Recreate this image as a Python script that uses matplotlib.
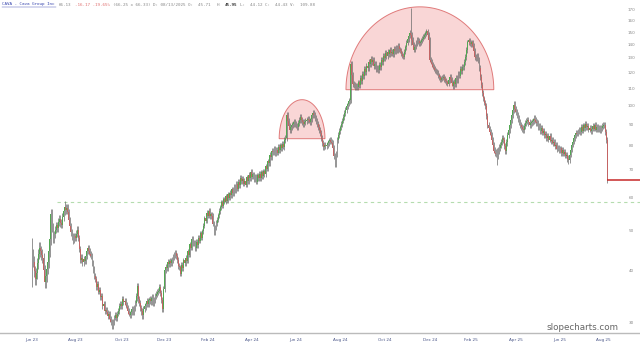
import numpy as np
import matplotlib
matplotlib.use("Agg")
import matplotlib.pyplot as plt
from matplotlib.transforms import blended_transform_factory

# ---------------- data ----------------
closes = [
    44.0, 42.1, 40.0, 38.2, 39.5, 41.8, 44.0, 45.5, 44.6, 43.8,
    43.0, 40.2, 37.6, 38.9, 40.5, 42.0, 44.6, 47.7, 54.8, 51.2,
    47.6, 49.0, 50.3, 51.5, 50.8, 52.5, 53.4, 52.2, 51.7, 54.0,
    55.8, 57.0, 56.1, 56.8, 55.4, 53.0, 51.2, 49.6, 48.4, 47.5,
    48.6, 48.0, 49.2, 50.3, 48.1, 45.2, 42.6, 43.1, 42.0, 42.8,
    42.3, 43.5, 44.7, 45.5, 44.6, 44.0, 43.5, 41.8, 40.3, 38.9,
    38.3, 36.6, 37.2, 35.7, 36.1, 34.6, 34.9, 33.0, 33.4, 32.1,
    32.2, 31.8, 31.2, 31.5, 30.7, 30.1, 29.5, 30.2, 30.9, 31.3,
    30.8, 31.6, 32.1, 32.9, 33.4, 33.0, 34.2, 33.6, 33.9, 33.2,
    32.7, 32.1, 31.6, 31.3, 31.9, 32.4, 31.8, 32.6, 33.5, 34.8,
    36.8, 34.2, 33.5, 32.6, 32.0, 31.3, 32.4, 32.9, 33.3, 33.8,
    33.4, 34.0, 34.2, 33.8, 34.5, 33.6, 34.1, 34.8, 35.2, 35.6,
    35.9, 36.6, 35.4, 34.1, 32.4, 36.2, 40.3, 41.0, 40.6, 42.0,
    41.5, 42.3, 41.8, 42.6, 43.2, 43.7, 44.3, 43.5, 42.6, 41.2,
    40.9, 39.4, 41.4, 40.6, 42.5, 41.8, 43.0, 42.4, 44.6, 43.8,
    46.4, 45.5, 47.9, 46.6, 46.9, 45.4, 47.0, 46.2, 48.1, 47.3,
    49.3, 48.1, 49.9, 51.4, 53.6, 52.8, 55.3, 54.4, 55.9, 54.2,
    54.8, 54.4, 52.0, 49.5, 50.8, 52.2, 53.1, 54.5, 55.8, 57.0,
    58.6, 57.4, 59.5, 58.7, 60.6, 59.0, 61.2, 60.1, 61.8, 60.9,
    62.9, 61.5, 63.8, 62.6, 64.9, 63.2, 65.6, 64.4, 67.0, 65.9,
    66.8, 64.9, 66.0, 64.6, 67.3, 65.8, 68.2, 66.9, 69.3, 67.5,
    68.4, 66.3, 67.6, 65.7, 68.1, 66.9, 68.6, 67.0, 69.2, 67.6,
    69.6, 68.4, 71.5, 70.6, 73.6, 72.8, 76.3, 75.1, 78.0, 77.2,
    78.9, 76.8, 78.4, 77.0, 79.6, 78.1, 80.4, 78.9, 80.9, 79.6,
    82.8, 83.5, 95.1, 92.0, 89.6, 87.5, 88.7, 89.8, 90.5, 91.2,
    90.3, 89.6, 89.0, 90.8, 92.5, 94.0, 92.6, 91.5, 90.5, 91.4,
    92.0, 92.5, 93.1, 92.2, 91.5, 93.0, 94.8, 96.2, 95.0, 93.4,
    91.8, 90.5, 88.9, 87.6, 86.0, 83.5, 81.2, 79.5, 80.3, 79.8,
    80.5, 81.3, 82.1, 82.8, 82.0, 81.5, 79.0, 75.8, 72.4, 76.5,
    82.8, 85.0, 86.9, 88.7, 90.4, 92.1, 94.0, 95.9, 97.8, 99.7,
    101.2, 102.5, 103.4, 126.0, 118.5, 113.0, 112.2, 111.0, 111.8, 110.8,
    113.8, 111.9, 116.4, 114.7, 119.5, 117.8, 122.4, 120.3, 124.9, 123.4,
    127.6, 125.9, 129.8, 127.4, 128.6, 124.9, 125.8, 122.2, 123.6, 121.8,
    125.2, 124.0, 128.6, 127.1, 131.8, 130.2, 133.9, 131.5, 134.9, 133.2,
    136.3, 133.6, 134.8, 133.1, 137.2, 135.4, 137.9, 136.0, 139.4, 136.6,
    135.8, 133.5, 132.1, 131.3, 134.8, 138.2, 141.9, 144.5, 147.3, 149.9,
    148.3, 144.0, 140.1, 136.5, 138.8, 141.6, 144.3, 143.2, 141.5, 142.0,
    143.8, 145.1, 146.6, 148.0, 149.5, 151.0, 148.2, 144.0, 129.0, 127.5,
    126.0, 124.0, 123.1, 121.8, 120.6, 120.0, 118.4, 117.0, 115.5, 116.3,
    116.9, 117.5, 116.0, 114.8, 113.9, 113.0, 115.2, 117.5, 115.8, 113.4,
    111.3, 113.9, 112.7, 116.8, 115.4, 119.6, 118.2, 122.4, 121.0, 123.8,
    124.0, 127.2, 131.0, 136.5, 142.0, 143.6, 141.8, 140.5, 142.0, 139.0,
    135.2, 131.0, 130.4, 132.0, 129.0, 123.5, 117.5, 112.0, 107.5, 104.1,
    101.8, 99.7, 94.5, 90.0, 88.2, 86.6, 85.0, 82.9, 80.3, 78.0,
    77.1, 76.5, 76.0, 78.0, 79.3, 80.5, 81.8, 83.4, 82.8, 80.0,
    78.0, 81.6, 85.0, 87.4, 90.1, 92.5, 95.0, 97.8, 100.6, 98.2,
    96.5, 95.0, 93.2, 91.4, 90.0, 88.8, 88.1, 87.5, 89.3, 91.0,
    91.8, 92.5, 91.2, 90.0, 90.8, 91.5, 92.0, 93.1, 92.5, 91.2,
    90.8, 88.6, 89.2, 86.8, 88.5, 86.2, 86.9, 84.8, 85.7, 83.6,
    84.4, 82.9, 84.6, 82.1, 82.8, 81.5, 82.0, 79.9, 80.6, 78.8,
    79.3, 77.9, 79.0, 76.9, 78.4, 76.6, 77.4, 75.7, 76.1, 74.4,
    74.0, 76.2, 78.4, 80.5, 82.0, 83.6, 85.0, 86.1, 85.7, 86.8,
    87.8, 86.4, 88.9, 87.1, 89.7, 88.3, 90.6, 88.7, 89.4, 87.6,
    88.4, 86.9, 88.0, 89.5, 88.1, 89.9, 87.6, 89.1, 87.8, 88.6,
    87.5, 88.4, 89.2, 89.8, 90.0, 86.5, 82.8, 66.3,
]
first_open = 42.0
# typical intraday wick size (fraction of price) per 20-bar block
range_pct = [0.030, 0.020, 0.018, 0.016, 0.016, 0.018, 0.016, 0.014, 0.014, 0.014,
             0.014, 0.014, 0.016, 0.016, 0.016, 0.016, 0.016, 0.014, 0.014, 0.014,
             0.016, 0.016, 0.018, 0.018, 0.016, 0.014, 0.014, 0.016]
# notable wick extremes: bar index -> (low, high)
wick_extremes = {0: (36.6, 48.0), 18: (47.0, 56.5), 31: (55.0, 59.0),
                 100: (33.8, 37.5), 303: (110.0, 127.0), 360: (140.0, 172.0),
                 442: (72.0, 79.0), 510: (72.5, 76.0)}

tick_labels = ["Jun 23", "Aug 23", "Oct 23", "Dec 23", "Feb 24", "Apr 24", "Jun 24",
               "Aug 24", "Oct 24", "Dec 24", "Feb 25", "Apr 25", "Jun 25", "Aug 25"]
tick_positions = [0, 41, 85, 126, 167, 209, 251, 293, 335, 378, 417, 460, 502, 543]
price_levels = [170, 160, 150, 140, 130, 120, 110, 100, 90, 80, 70, 60, 50, 40, 30]

prior_high = 58.6
# domes: (left index, right index, base price, top price)
domes = [(235, 278.5, 83.3, 103.4), (298.5, 439, 109.3, 173.0)]

header_parts = [
    ("CAVA - Cava Group Inc", "#3a48b0", "normal"),
    ("66.13", "#888888", "normal"),
    ("-16.17 -19.65%", "#e07070", "normal"),
    ("(66.25 x 66.33) D: 08/13/2025 O:  45.71", "#888888", "normal"),
    ("H:", "#888888", "normal"),
    ("45.95", "#333333", "bold"),
    ("L:  44.12 C:  44.43 V:  109.88", "#888888", "normal"),
]

# ---------------- figure ----------------
W, H = 640, 343
fig = plt.figure(figsize=(W / 100, H / 100), dpi=100)
ax = fig.add_axes([0, 10 / H, 1, 333 / H])
ax.set_yscale("log")
ax.set_xlim(-30.4, 578)
ax.set_ylim(28.37, 179.7)
for s in ["top", "left", "right"]:
    ax.spines[s].set_visible(False)
ax.spines["bottom"].set_color("#bbbbbb")
ax.spines["bottom"].set_linewidth(1.0)
ax.set_xticks([])
ax.set_yticks([])
ax.yaxis.set_minor_locator(matplotlib.ticker.NullLocator())

c = np.array(closes)
n = len(c)
x = np.arange(n)
o = np.concatenate([[first_open], c[:-1]])
r = np.array([range_pct[i // 20] for i in range(n)])
hi = np.maximum(o, c) * (1 + r)
lo = np.minimum(o, c) * (1 - r)
for k, (l, h) in wick_extremes.items():
    lo[k] = min(lo[k], l)
    hi[k] = max(hi[k], h)
up = c >= o

# domes
for (l, rr, b, t) in domes:
    th = np.linspace(0, np.pi, 200)
    cx, a = (l + rr) / 2, (rr - l) / 2
    xs = cx + a * np.cos(th)
    ys = np.exp(np.log(b) + (np.log(t) - np.log(b)) * np.sin(th))
    ax.fill(xs, ys, facecolor="#f9d6d6", edgecolor="#e07a7a", lw=0.7, zorder=1)

# prior high dashed line
ax.hlines(prior_high, 24, 578, colors="#b5dcae", linestyles=(0, (3, 3)), lw=0.8, zorder=2)

# candles
ax.vlines(x, lo, hi, colors="#6a6a6a", lw=0.5, zorder=3)
ax.bar(x[up], (c[up] - o[up]).clip(min=0.15), bottom=o[up], width=0.8,
       color="#52a852", edgecolor="none", zorder=4)
ax.bar(x[~up], (o[~up] - c[~up]).clip(min=0.15), bottom=c[~up], width=0.8,
       color="#c46464", edgecolor="none", zorder=4)

# last close line
ax.hlines(c[-1], x[-1], 578, colors="#c62828", lw=1.1, zorder=5)

# y labels at right
tr = blended_transform_factory(ax.transAxes, ax.transData)
for p in price_levels:
    ax.text(631 / W, p, str(p), transform=tr, fontsize=3, color="#888888",
            ha="center", va="center")

# x labels
for pos, lab in zip(tick_positions, tick_labels):
    fig.text((32 + pos * 1.052) / W, 1 - 340 / H, lab, fontsize=3, color="#4a5688",
             ha="center", va="center")

# watermark
fig.text(582 / W, 1 - 327 / H, "slopecharts.com", fontsize=6.3, color="#666666",
         ha="center", va="center")

# header (monospace, laid out by character count)
fs = 3.1
cw = fs / 72 * 100 * 0.602  # px per char
hx = 2.0
hy = 1 - 4.5 / H
for txt, col, wt in header_parts:
    fig.text(hx / W, hy, txt, fontsize=fs, color=col, family="DejaVu Sans Mono",
             va="center", ha="left", weight=wt)
    if txt.startswith("CAVA"):
        fig.add_artist(plt.Line2D([hx / W, (hx + len(txt) * cw) / W],
                                  [1 - 7 / H, 1 - 7 / H], color=col, lw=0.3))
    hx += (len(txt) + 1) * cw

fig.savefig("out.png", dpi=100)
